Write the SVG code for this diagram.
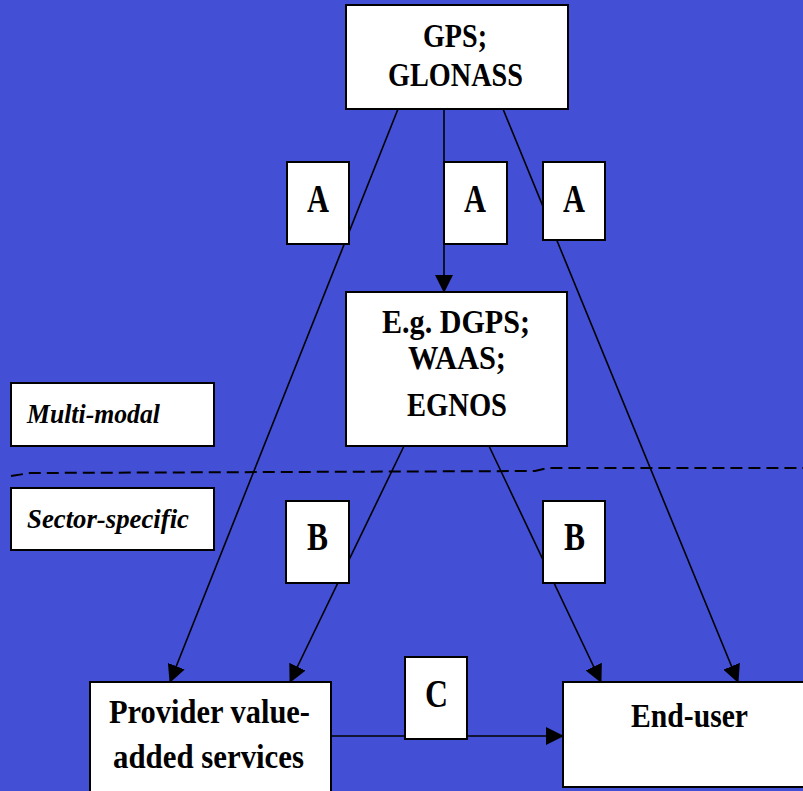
<svg xmlns="http://www.w3.org/2000/svg" width="803" height="791" viewBox="0 0 803 791">
<defs>
<marker id="arr" viewBox="0 0 18 18" refX="17" refY="9" markerWidth="18" markerHeight="18" markerUnits="userSpaceOnUse" orient="auto">
<path d="M0,0 L18,9 L0,18 Z" fill="#000"/>
</marker>
<style>
.box{fill:#fff;stroke:#000;stroke-width:2}
.t{font-family:"Liberation Serif","Times New Roman",serif;font-weight:bold;fill:#000;text-anchor:start}
.m{font-size:33px}
.l{font-size:40px}
.i{font-family:"Liberation Serif","Times New Roman",serif;font-weight:bold;font-style:italic;font-size:28px;fill:#000}
.c{stroke:#000;stroke-width:1.6;fill:none}
</style>
</defs>
<rect x="0" y="0" width="803" height="791" fill="#434fd5"/>
<g id="connectors">
<line class="c" x1="398" y1="109" x2="170" y2="682" marker-end="url(#arr)"/>
<line class="c" x1="444" y1="109" x2="444" y2="292" marker-end="url(#arr)"/>
<line class="c" x1="503" y1="109" x2="738" y2="682" marker-end="url(#arr)"/>
<line class="c" x1="404" y1="446" x2="290" y2="682" marker-end="url(#arr)"/>
<line class="c" x1="489" y1="446" x2="601" y2="682" marker-end="url(#arr)"/>
<line class="c" x1="327" y1="736" x2="563" y2="736" marker-end="url(#arr)"/>
<path d="M11,476 L30,473 L279,472 L535,471 L548,468 L803,468" fill="none" stroke="#000" stroke-width="2" stroke-dasharray="12,6"/>
</g>
<g id="gps">
<rect class="box" x="346" y="5" width="222" height="104"/>
<text class="t m" x="423" y="47" textLength="64" lengthAdjust="spacingAndGlyphs">GPS;</text>
<text class="t m" x="388" y="86" textLength="135" lengthAdjust="spacingAndGlyphs">GLONASS</text>
</g>
<g id="a1">
<rect class="box" x="287" y="162" width="62" height="82"/>
<text class="t l" x="307" y="212" textLength="22" lengthAdjust="spacingAndGlyphs">A</text>
</g>
<g id="a2">
<rect class="box" x="444" y="162" width="63" height="82"/>
<text class="t l" x="464" y="212" textLength="22" lengthAdjust="spacingAndGlyphs">A</text>
</g>
<g id="a3">
<rect class="box" x="543" y="162" width="62" height="78"/>
<text class="t l" x="563" y="212" textLength="22" lengthAdjust="spacingAndGlyphs">A</text>
</g>
<g id="augment">
<rect class="box" x="346" y="292" width="221" height="154"/>
<text class="t m" x="382" y="333" textLength="148" lengthAdjust="spacingAndGlyphs">E.g. DGPS;</text>
<text class="t m" x="408" y="369" textLength="98" lengthAdjust="spacingAndGlyphs">WAAS;</text>
<text class="t m" x="407" y="416" textLength="100" lengthAdjust="spacingAndGlyphs">EGNOS</text>
</g>
<g id="multimodal">
<rect class="box" x="11" y="383" width="203" height="63"/>
<text class="i" x="27" y="423" textLength="133" lengthAdjust="spacingAndGlyphs">Multi-modal</text>
</g>
<g id="sectorspecific">
<rect class="box" x="11" y="488" width="203" height="62"/>
<text class="i" x="27" y="528" textLength="162" lengthAdjust="spacingAndGlyphs">Sector-specific</text>
</g>
<g id="b1">
<rect class="box" x="286" y="501" width="63" height="82"/>
<text class="t l" x="307" y="550" textLength="21" lengthAdjust="spacingAndGlyphs">B</text>
</g>
<g id="b2">
<rect class="box" x="543" y="501" width="62" height="82"/>
<text class="t l" x="564" y="550" textLength="21" lengthAdjust="spacingAndGlyphs">B</text>
</g>
<g id="c">
<rect class="box" x="405" y="657" width="62" height="82"/>
<text class="t l" x="425" y="707" textLength="23" lengthAdjust="spacingAndGlyphs">C</text>
</g>
<g id="provider">
<rect class="box" x="90" y="682" width="241" height="115"/>
<text class="t m" x="109" y="723" textLength="201" lengthAdjust="spacingAndGlyphs">Provider value-</text>
<text class="t m" x="113" y="768" textLength="191" lengthAdjust="spacingAndGlyphs">added services</text>
</g>
<g id="enduser">
<rect class="box" x="563" y="682" width="250" height="105"/>
<text class="t m" x="631" y="727" textLength="117" lengthAdjust="spacingAndGlyphs">End-user</text>
</g>
</svg>
